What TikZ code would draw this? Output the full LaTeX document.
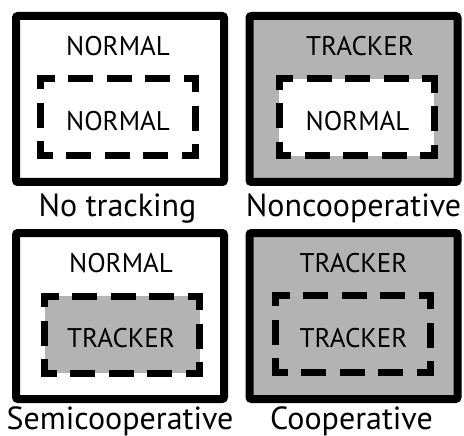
\documentclass[tikz,border=0pt]{standalone}
\usepackage{fontspec}
\setmainfont{PT Sans}
\usepackage{tikz}
\usetikzlibrary{positioning}

\definecolor{trackgray}{RGB}{179,179,179}

\tikzset{
    outerbox/.style={draw, line width=8pt, rounded corners=2pt, minimum width=208pt, minimum height=166pt, inner sep=0pt, outer sep=0pt},
    innerbox/.style={minimum width=155pt, minimum height=77pt, inner sep=0pt, outer sep=0pt},
    dashedge/.style={line width=7pt, line cap=rect, dash pattern=on 18pt off 20.5pt, dash phase=7.5pt},
    boxtext/.style={font=\fontsize{27}{30}\selectfont, inner sep=0pt, anchor=base},
    caption/.style={font=\fontsize{32}{36}\selectfont, inner sep=0pt, anchor=base}
}

% each side is its own subpath, so every side starts its dashes afresh at a corner
\newcommand{\dashsides}[1]{%
    \draw[dashedge] (#1.north west) -- (#1.north east) (#1.north east) -- (#1.south east)
        (#1.south east) -- (#1.south west) (#1.south west) -- (#1.north west);}

\begin{document}
\begin{tikzpicture}[x=1pt, y=-1pt]
        \useasboundingbox (0,0) rectangle (464,436);

        % outer boxes
        \node[outerbox, fill=white]      at (120, 99)    (nt) {};
        \node[outerbox, fill=trackgray]  at (353.5, 99)  (nc) {};
        \node[outerbox, fill=white]      at (120, 316)   (sc) {};
        \node[outerbox, fill=trackgray]  at (353.5, 316) (co) {};

        % inner boxes
        \node[innerbox, fill=white]      at (118, 117)   (nti) {};
        \node[innerbox, fill=white]      at (356.5, 117.5) (nci) {};
        \node[innerbox, fill=trackgray]  at (122, 334.5) (sci) {};
        \node[innerbox, fill=trackgray]  at (353, 333.5) (coi) {};
        \dashsides{nti}\dashsides{nci}\dashsides{sci}\dashsides{coi}

        % texts
        \node[boxtext] at (118, 56)    (ntt) {NORMAL};
        \node[boxtext] at (118, 131)   (ntb) {NORMAL};
        \node[boxtext] at (360, 56)    (nct) {TRACKER};
        \node[boxtext] at (357.5, 131) (ncb) {NORMAL};
        \node[boxtext] at (121, 272)   (sct) {NORMAL};
        \node[boxtext] at (121, 347)   (scb) {TRACKER};
        \node[boxtext] at (353.5, 272) (cot) {TRACKER};
        \node[boxtext] at (353.5, 347) (cob) {TRACKER};

        % captions
        \node[caption] at (117.5, 216) (ntl) {No tracking};
        \node[caption] at (353.5, 216) (ncl) {Noncooperative};
        \node[caption] at (120, 429)   (scl) {Semicooperative};
        \node[caption] at (351.5, 429) (col) {Cooperative};
    \end{tikzpicture}
\end{document}
